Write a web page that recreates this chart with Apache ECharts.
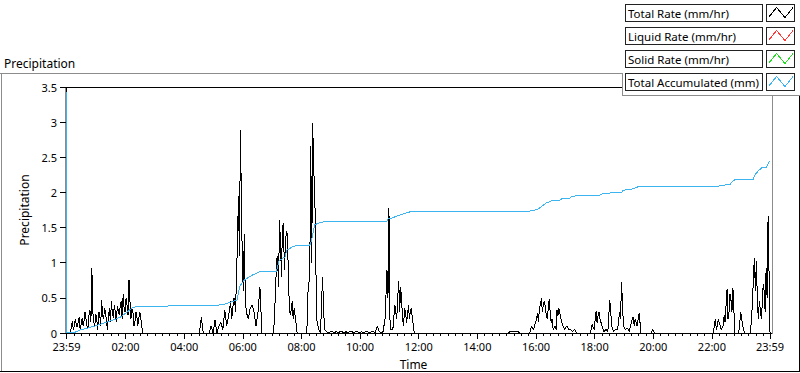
<!DOCTYPE html>
<html><head><meta charset="utf-8">
<script src="https://cdn.jsdelivr.net/npm/echarts@6/dist/echarts.min.js"></script>
<style>html,body{margin:0;padding:0;background:#fff}#c{width:800px;height:373px}
#c svg path{shape-rendering:crispEdges}</style>
</head><body><div id="c"></div>
<script>
// ---- data ----
const seriesNames = ['Total Rate (mm/hr)', 'Liquid Rate (mm/hr)', 'Solid Rate (mm/hr)', 'Total Accumulated (mm)'];
const seriesColors = ['#000000', '#ff3a3a', '#22dd22', '#3bb4ef'];

// Total rate, one sample every 4 minutes starting at 23:59
const rateStepMinutes = 4;
const totalRate = [
  0,0,0,0.17,0.1,0.12,0.15,0.05,0.21,0.18,
  0.2,0.08,0.33,0.92,0.15,0.27,0.05,0.28,0.47,0.2,
  0.3,0.05,0.35,0.45,0.22,0.3,0.38,0.25,0.45,0.55,
  0.3,0.4,0.75,0.2,0.3,0.15,0.25,0.2,0.22,0,
  0,0,0,0,0,0,0,0,0,0,
  0,0,0,0,0,0,0,0,0,0,
  0,0,0,0,0,0,0,0,0,0.22,
  0,0,0,0,0.1,0,0.18,0,0.1,0.15,
  0.05,0.32,0.1,0.25,0.45,0.3,0.49,0.8,1.95,2.89,
  0.97,1.41,0.3,0.2,0.35,0.4,0.3,0.1,0.3,0.65,
  0,0,0,0,0,0,0,0.6,1.1,1.61,
  0.8,1.57,1.23,1.4,0.4,0.33,0.2,0.25,0,0,
  0,0,0,0,0.7,2.66,2.99,2.09,0.2,0.05,
  0,0.8,0.05,0.02,0,0.02,0.02,0,0.02,0,
  0.02,0.02,0,0.02,0,0.02,0.02,0,0.02,0.02,
  0,0.02,0,0.02,0.02,0,0.02,0.02,0,0.1,
  0.02,0,0.02,0.2,0.89,1.78,0.05,0.05,0.4,0.2,
  0.74,0.66,0.2,0.35,0.15,0.4,0.33,0.2,0,0,
  0,0,0,0,0,0,0,0,0,0,
  0,0,0,0,0,0,0,0,0,0,
  0,0,0,0,0,0,0,0,0,0,
  0,0,0,0,0,0,0,0,0,0,
  0,0,0,0,0,0,0,0.02,0.02,0.02,
  0.02,0.02,0,0,0,0,0,0,0.1,0.05,
  0.15,0.29,0.35,0.49,0.4,0.38,0.2,0.48,0.15,0.05,
  0.1,0.33,0.35,0.2,0.1,0.05,0.1,0.05,0.05,0.02,
  0.05,0,0,0,0,0,0,0,0,0.12,
  0.05,0.31,0.25,0.2,0.1,0.02,0.05,0.02,0.47,0.1,
  0.02,0.05,0.05,0.3,0.73,0.1,0.05,0.07,0.02,0.15,
  0.23,0.2,0.1,0.28,0,0,0,0,0,0,
  0.05,0,0,0,0,0,0,0,0,0,
  0,0,0,0,0,0,0,0,0,0,
  0,0,0,0,0,0,0,0,0,0,
  0,0,0.2,0.1,0.15,0.05,0.1,0.15,0.62,0.3,
  0.47,0.64,0,0,0,0.3,0.1,0,0,0,
  0,0.43,1.07,1.02,0.2,0.35,0.4,0.6,0.92,1.67,
  0
];
// Extra in-between readings (minutes after 23:59) inside the busy bursts
const rateDetailTimes = [
  14,18,22,26,30,34,38,42,46,50,54,58,62,66,70,74,78,82,86,90,94,98,102,106,110,114,118,122,126,130,134,138,142,146,150,
  338,342,346,350,354,358,362,366,
  426,430,434,438,442,446,450,454,458,462,466,
  494,498,502,506,510,
  658,662,678,682,686,690,694,698,702,706,
  962,966,970,974,978,982,986,990,994,1002,1006,
  1086,1090,1134,1158,1162,1170,
  1330,1334,1346,1350,1354,1358,1362,
  1406,1410,1414,1418,1422,1426,1430,1434
];
const rateDetailValues = [
  0.05,0.2,0.08,0.22,0.12,0.1,0.3,0.1,0.25,0.15,0.3,0.1,0.2,0.3,0.1,0.25,0.35,0.15,0.25,0.15,0.28,0.4,0.15,0.32,0.38,0.2,0.35,0.5,0.25,0.45,0.35,0.1,0.3,0.1,0.3,
  0.2,0.5,0.3,1.3,1.1,1.9,0.6,0.5,
  0.3,1.05,0.65,1.3,1.5,0.9,1.45,0.9,0.25,0.45,0.35,
  0.55,0.85,1.0,2.3,1.2,
  0.5,0.2,0.5,0.3,0.45,0.1,0.3,0.25,0.2,0.35,
  0.2,0.15,0.4,0.3,0.45,0.25,0.35,0.3,0.2,0.05,0.25,
  0.15,0.3,0.2,0.2,0.1,0.2,
  0.05,0.2,0.25,0.4,0.2,0.55,0.3,
  0.8,0.6,0.5,0.45,0.2,0.7,0.3,0.5
];
const liquidRate = [];
const solidRate = [];

// Total accumulated: minutes after 23:59 and value
const accTimes = [0,1,17,27,48,68,89,109,123,133,
  143,304,324,340,349,355,365,382,399,430,
  435,447,451,461,471,498,502,508,518,525,
  655,658,668,678,692,706,709,948,965,972,
  982,993,1010,1014,1030,1034,1051,1092,1096,1112,
  1116,1136,1139,1159,1170,1334,1337,1358,1361,1368,
  1405,1409,1415,1423,1433,1437,1440];
const accValues = [3.43,0,0.01,0.04,0.08,0.12,0.17,0.22,0.29,0.35,
  0.38,0.39,0.41,0.45,0.47,0.67,0.76,0.83,0.88,0.88,
  1.03,1.08,1.18,1.22,1.245,1.25,1.33,1.54,1.57,1.58,
  1.58,1.62,1.64,1.67,1.70,1.73,1.735,1.735,1.76,1.80,
  1.85,1.88,1.89,1.91,1.92,1.945,1.955,1.96,1.98,1.99,
  2.0,2.0,2.03,2.05,2.08,2.08,2.1,2.11,2.145,2.18,
  2.18,2.25,2.30,2.35,2.36,2.42,2.45];

// Axis ticks
const timeLabels = ['23:59','02:00','04:00','06:00','08:00','10:00','12:00','14:00','16:00','18:00','20:00','22:00','23:59'];
const timeLabelOffsets = [0,121,241,361,481,601,721,841,961,1081,1201,1321,1440];
const yMin = 0, yMax = 3.5, yInterval = 0.5;

// ---- build ----
const FONT = '"Noto Sans", "DejaVu Sans", sans-serif';
const minorTicks = [];
for (let m = 16; m < 1440; m += 15) if (timeLabelOffsets.indexOf(m) < 0) minorTicks.push(m);

const rateData = totalRate.map((v, i) => [i * rateStepMinutes, v])
  .concat(rateDetailTimes.map((t, i) => [t, rateDetailValues[i]]))
  .sort((a, b) => a[0] - b[0]);
const accData = accTimes.map((t, i) => [t, accValues[i]]);

const chart = echarts.init(document.getElementById('c'), null, {renderer: 'svg'});

const graphics = [];
const Z = 100;
// outer panel frame
graphics.push({type:'line', z:Z, shape:{x1:0, y1:73.5, x2:622, y2:73.5}, style:{stroke:'#8c8c8c', lineWidth:1}});
graphics.push({type:'line', z:Z, shape:{x1:1.5, y1:73, x2:1.5, y2:372}, style:{stroke:'#8c8c8c', lineWidth:1}});
graphics.push({type:'line', z:Z, shape:{x1:0, y1:371.5, x2:800, y2:371.5}, style:{stroke:'#000', lineWidth:1}});
graphics.push({type:'line', z:Z, shape:{x1:799.5, y1:95, x2:799.5, y2:372}, style:{stroke:'#000', lineWidth:1}});
// legend panel
graphics.push({type:'rect', z:Z, shape:{x:622, y:0, width:178, height:95}, style:{fill:'#fff', stroke:null}});
graphics.push({type:'line', z:Z+1, shape:{x1:622.5, y1:73, x2:622.5, y2:95.5}, style:{stroke:'#8c8c8c', lineWidth:1}});
graphics.push({type:'line', z:Z+1, shape:{x1:622, y1:95.5, x2:800, y2:95.5}, style:{stroke:'#8c8c8c', lineWidth:1}});
seriesNames.forEach((name, r) => {
  const y = 4.5 + 23 * r;
  graphics.push({type:'rect', z:Z+1, shape:{x:625.5, y:y, width:137, height:17}, style:{fill:'#fff', stroke:'#222', lineWidth:1}});
  graphics.push({type:'text', z:Z+2, x:628, y:y + 9, style:{text:name, font:'11.5px ' + FONT, fill:'#000', verticalAlign:'middle', align:'left'}});
  graphics.push({type:'rect', z:Z+1, shape:{x:766.5, y:y, width:28, height:17}, style:{fill:'#fff', stroke:'#222', lineWidth:1}});
  graphics.push({type:'polyline', z:Z+2, shape:{points:[[768.5, y + 13],[776.5, y + 3],[785, y + 13],[793, y + 3]]}, style:{stroke:seriesColors[r], lineWidth:1, fill:null}});
});

const baseX = {type:'value', min:-3, max:1444, splitLine:{show:false}};
chart.setOption({
  animation: false,
  backgroundColor: '#fff',
  title: {text:'Precipitation', left:4, top:57, padding:0, textStyle:{fontSize:12, fontWeight:'normal', color:'#000', fontFamily:FONT}},
  grid: {left:65, right:28, top:87, bottom:40, show:true, borderColor:'#8c8c8c', borderWidth:1, backgroundColor:'#fff', containLabel:false, outerBoundsMode:'none'},
  xAxis: [
    Object.assign({}, baseX, {
      position:'bottom',
      axisLine:{show:true, lineStyle:{color:'#000', width:1}},
      axisTick:{show:true, customValues:timeLabelOffsets, length:6, lineStyle:{color:'#000'}},
      axisLabel:{customValues:timeLabelOffsets, formatter:(v) => timeLabels[timeLabelOffsets.indexOf(v)], margin:8, color:'#000', fontSize:11, fontFamily:FONT},
      name:'Time', nameLocation:'middle', nameGap:25,
      nameTextStyle:{color:'#000', fontSize:12, fontFamily:FONT, padding:[0,10,0,0]}
    }),
    Object.assign({}, baseX, {
      position:'bottom',
      axisLine:{show:false},
      axisTick:{show:true, customValues:minorTicks, length:3, lineStyle:{color:'#000'}},
      axisLabel:{show:false}
    }),
    Object.assign({}, baseX, {
      position:'top',
      axisLine:{show:true, lineStyle:{color:'#000', width:1}},
      axisTick:{show:false}, axisLabel:{show:false}
    })
  ],
  yAxis: [{
    type:'value', min:yMin, max:yMax, interval:yInterval,
    axisLine:{show:true, lineStyle:{color:'#000', width:1}},
    axisTick:{show:true, length:6, lineStyle:{color:'#000'}},
    axisLabel:{margin:8, color:'#000', fontSize:11, fontFamily:FONT},
    splitLine:{show:false},
    name:'Precipitation', nameLocation:'middle', nameGap:17, nameRotate:90,
    nameTextStyle:{color:'#000', fontSize:12, fontFamily:FONT}
  }],
  series: [
    {name:seriesNames[0], type:'line', xAxisIndex:0, yAxisIndex:0, data:rateData, showSymbol:false, symbol:'none', lineStyle:{color:seriesColors[0], width:1}, itemStyle:{color:seriesColors[0]}},
    {name:seriesNames[1], type:'line', xAxisIndex:0, data:liquidRate, symbol:'none', lineStyle:{color:seriesColors[1], width:1}},
    {name:seriesNames[2], type:'line', xAxisIndex:0, data:solidRate, symbol:'none', lineStyle:{color:seriesColors[2], width:1}},
    {name:seriesNames[3], type:'line', xAxisIndex:0, yAxisIndex:0, data:accData, showSymbol:false, symbol:'none', lineStyle:{color:seriesColors[3], width:1}, itemStyle:{color:seriesColors[3]}}
  ],
  graphic: graphics
});
</script>
</body></html>
